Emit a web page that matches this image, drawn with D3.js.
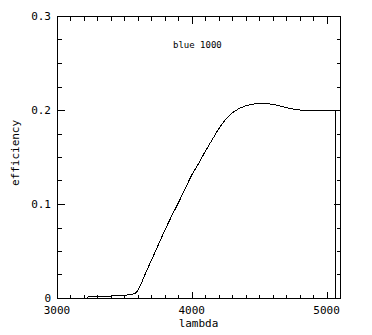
<!DOCTYPE html>
<html>
<head>
<meta charset="utf-8">
<script src="https://cdn.jsdelivr.net/npm/d3@7/dist/d3.min.js"></script>
<style>
  html, body { margin: 0; padding: 0; background: #fff; }
  svg { display: block; }
  text { font-family: "DejaVu Sans Mono", monospace; fill: #000; }
</style>
</head>
<body>
<svg id="chart" width="372" height="335"></svg>
<script>
// Wavelength grid (Angstrom) and grating efficiency for "blue 1000"
const lambda = [3220, 3300, 3350, 3400, 3450, 3500, 3550, 3580, 3600, 3625, 3650,
  3700, 3750, 3800, 3850, 3900, 3950, 4000, 4050, 4100, 4150, 4200, 4250, 4300,
  4350, 4400, 4450, 4500, 4550, 4600, 4650, 4700, 4750, 4800, 4850, 4900, 4950,
  5000, 5050, 5068, 5069];
const efficiency = [0.001, 0.0015, 0.002, 0.002, 0.0025, 0.003, 0.0035, 0.005, 0.008,
  0.015, 0.024, 0.040, 0.056, 0.072, 0.087, 0.101, 0.116, 0.131, 0.143, 0.156,
  0.168, 0.180, 0.190, 0.197, 0.2015, 0.2045, 0.2062, 0.207, 0.207, 0.206, 0.2045,
  0.2025, 0.201, 0.200, 0.2, 0.2, 0.2, 0.2, 0.2, 0.2, 0.0];

const xDomain = [3000, 5100];
const yDomain = [0, 0.3];
const xMajorTicks = [3000, 4000, 5000];
const xTickLabels = ["3000", "4000", "5000"];
const yMajorTicks = [0, 0.1, 0.2, 0.3];
const yTickLabels = ["0", "0.1", "0.2", "0.3"];
const xMinorStep = 100;
const yMinorStep = 0.025;
const xTitle = "lambda";
const yTitle = "efficiency";
const annotation = "blue 1000";

const svg = d3.select("#chart");
const plotLeft = 57, plotRight = 340, plotTop = 16, plotBottom = 298;

const x = d3.scaleLinear().domain(xDomain).range([plotLeft, plotRight]);
const y = d3.scaleLinear().domain(yDomain).range([plotBottom, plotTop]);

const g = svg.append("g").attr("shape-rendering", "crispEdges");

// frame
g.append("rect")
  .attr("x", plotLeft + 0.5).attr("y", plotTop + 0.5)
  .attr("width", plotRight - plotLeft).attr("height", plotBottom - plotTop)
  .attr("fill", "none").attr("stroke", "#000").attr("stroke-width", 1);

const xMinor = d3.range(xDomain[0], xDomain[1] + 1, xMinorStep);
const yMinor = d3.range(0, yDomain[1] + 1e-9, yMinorStep);
const majorLen = 7, minorLen = 4;
const isXMajor = v => xMajorTicks.some(m => Math.abs(m - v) < 1e-6);
const isYMajor = v => yMajorTicks.some(m => Math.abs(m - v) < 1e-9);

// x ticks on bottom and top, pointing inward
xMinor.forEach(v => {
  const len = isXMajor(v) ? majorLen : minorLen;
  const px = Math.round(x(v)) + 0.5;
  g.append("line").attr("x1", px).attr("x2", px)
    .attr("y1", plotBottom + 0.5).attr("y2", plotBottom + 0.5 - len)
    .attr("stroke", "#000");
  g.append("line").attr("x1", px).attr("x2", px)
    .attr("y1", plotTop + 0.5).attr("y2", plotTop + 0.5 + len)
    .attr("stroke", "#000");
});

// y ticks on left and right, pointing inward
yMinor.forEach(v => {
  const len = isYMajor(v) ? majorLen : minorLen;
  const py = Math.round(y(v)) + 0.5;
  g.append("line").attr("y1", py).attr("y2", py)
    .attr("x1", plotLeft + 0.5).attr("x2", plotLeft + 0.5 + len)
    .attr("stroke", "#000");
  g.append("line").attr("y1", py).attr("y2", py)
    .attr("x1", plotRight + 0.5).attr("x2", plotRight + 0.5 - len)
    .attr("stroke", "#000");
});

// tick labels
svg.append("g").selectAll("text").data(xMajorTicks).join("text")
  .attr("x", d => x(d)).attr("y", 314)
  .attr("text-anchor", "middle").attr("font-size", 11)
  .text((d, i) => xTickLabels[i]);

svg.append("g").selectAll("text").data(yMajorTicks).join("text")
  .attr("x", 51).attr("y", d => y(d) + 4)
  .attr("text-anchor", "end").attr("font-size", 11)
  .text((d, i) => yTickLabels[i]);

// axis titles
svg.append("text")
  .attr("x", (plotLeft + plotRight) / 2).attr("y", 327)
  .attr("text-anchor", "middle").attr("font-size", 11)
  .text(xTitle);

svg.append("text")
  .attr("transform", `translate(19,${(plotTop + plotBottom) / 2 - 4}) rotate(-90)`)
  .attr("text-anchor", "middle").attr("font-size", 11)
  .text(yTitle);

// annotation
svg.append("text")
  .attr("x", 173).attr("y", 48)
  .attr("font-size", 9)
  .text(annotation);

// efficiency curve
const line = d3.line()
  .x((d, i) => x(lambda[i]))
  .y(d => y(d));

svg.append("path")
  .datum(efficiency)
  .attr("d", line)
  .attr("fill", "none")
  .attr("stroke", "#000")
  .attr("stroke-width", 1)
  .attr("shape-rendering", "crispEdges");
</script>
</body>
</html>
